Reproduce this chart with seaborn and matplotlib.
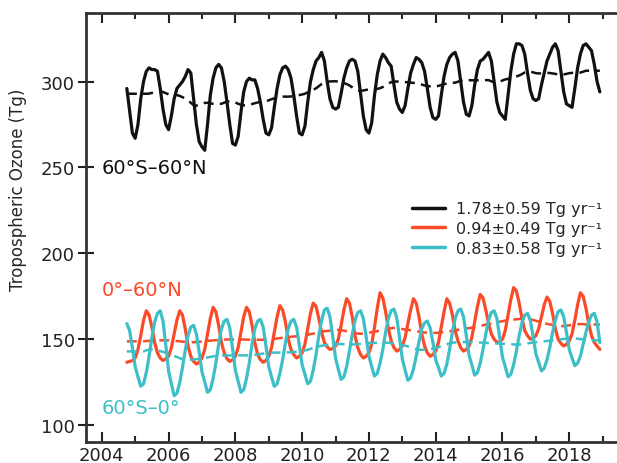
import numpy as np
import pandas as pd
import matplotlib
matplotlib.use("Agg")
import matplotlib.pyplot as plt
from matplotlib.lines import Line2D
from matplotlib.ticker import MultipleLocator
import seaborn as sns

# monthly tropospheric ozone burden (Tg), Oct 2004 - Dec 2018
black_60s_60n = [
    296, 283, 270,
    267, 275, 290, 300, 306, 308, 307, 307, 306, 296, 284, 275,
    272, 280, 290, 296, 298, 300, 303, 307, 305, 290, 275, 265,
    262, 260, 275, 292, 302, 308, 310, 308, 300, 288, 275, 264,
    263, 268, 282, 294, 300, 302, 301, 301, 296, 288, 278, 270,
    269, 273, 285, 296, 304, 308, 309, 307, 302, 292, 280, 270,
    269, 274, 288, 300, 307, 312, 314, 317, 312, 300, 290, 285,
    284, 285, 293, 302, 308, 312, 313, 312, 306, 293, 280, 272,
    270, 276, 292, 304, 312, 316, 314, 311, 309, 298, 288, 284,
    282, 286, 296, 305, 310, 314, 313, 311, 306, 296, 285, 279,
    278, 280, 292, 303, 310, 314, 316, 317, 312, 300, 288, 281,
    280, 286, 298, 307, 312, 313, 315, 317, 312, 300, 288, 282,
    280, 278, 292, 306, 316, 322, 322, 321, 316, 305, 295, 290,
    289, 290, 298, 305, 312, 316, 320, 322, 318, 306, 294, 287,
    286, 285, 296, 308, 316, 321, 322, 320, 318, 310, 300, 294,
]
red_0_60n = [
    136.5, 137, 137.5,
    139, 144, 152, 161, 166.5, 164, 157, 148, 142, 139, 137.5, 138.5,
    140, 145, 153, 161, 166.5, 164, 156, 146, 140, 137, 135.5, 136.5,
    139, 144, 153, 162, 168.5, 166, 158, 148, 142, 138.5, 137, 138,
    140, 145, 154, 163, 168.5, 166, 158, 148, 141, 138, 136.5, 137.5,
    140, 145, 154, 163, 169.5, 167, 160, 150, 144, 141, 139, 140,
    142, 147, 156, 165, 171, 169, 162, 154, 148, 145.5, 144, 144.5,
    146, 150, 158, 167, 173.5, 171, 163, 152, 145, 141, 139, 140,
    142, 147, 157, 168, 177, 174, 166, 156, 149, 145, 143, 144,
    146, 151, 159, 167, 173.5, 171, 163, 153, 146, 142, 140, 141,
    143, 148, 157, 166, 173.5, 171, 164, 155, 149, 145, 143, 144,
    146, 151, 160, 169, 176, 174, 167, 159, 153, 150, 148, 148.5,
    150, 155, 164, 173, 180, 178, 171, 162, 155, 152, 150, 150.5,
    152, 156, 163, 170, 174.5, 172, 165, 156, 150, 147.5, 146, 147,
    149, 153, 161, 170, 177, 175, 168, 159, 152, 148, 146, 144,
]
cyan_60s_0 = [
    159, 155, 145,
    134, 128, 122.5, 124, 130.5, 140, 151, 160, 165, 166.5, 160.5, 146.5,
    131.5, 124, 117, 118.5, 124.5, 133.5, 143.5, 152, 157, 158, 153, 142.5,
    131, 125, 119, 120.5, 127, 136, 147, 156, 160.5, 161.5, 156.5, 144.5,
    132, 125.5, 119, 120.5, 127, 136, 147, 156, 160.5, 161.5, 157, 146,
    134, 128, 122.5, 124, 130, 138, 148, 156, 160.5, 161.5, 157, 146.5,
    135, 129.5, 124, 125.5, 132, 141, 152, 161, 167, 168, 163, 151.5,
    139, 132.5, 126.5, 128, 134, 143, 152.5, 161, 165.5, 166.5, 162, 151.5,
    140, 134, 128.5, 130, 136, 144, 154, 162, 166.5, 167.5, 162.5, 151,
    138.5, 132, 126, 127.5, 132.5, 140, 148.5, 156, 159.5, 160.5, 156.5, 148,
    138, 133.5, 128.5, 130, 135.5, 144, 154, 162, 166.5, 167.5, 163, 152,
    140.5, 135, 129, 130.5, 136, 144, 153, 161, 165.5, 166.5, 162, 151,
    139.5, 134, 128, 129.5, 135, 143, 152, 159.5, 164, 165, 161, 151.5,
    141.5, 136.5, 131.5, 133, 138, 145, 154, 161, 166, 167, 163, 154,
    144, 139, 134.5, 136, 140, 147, 154, 160, 164, 165, 160, 148,
]

regions = ["60°S–60°N", "0°–60°N", "60°S–0°"]
trend_labels = ["1.78±0.59 Tg yr⁻¹", "0.94±0.49 Tg yr⁻¹", "0.83±0.58 Tg yr⁻¹"]
colors = ["#111111", "#fa4a28", "#3dbfc8"]

months = pd.period_range("2004-10", "2018-12", freq="M")
year_frac = months.year + (months.month - 1) / 12.0

frames = []
for name, vals in zip(regions, [black_60s_60n, red_0_60n, cyan_60s_0]):
    d = pd.DataFrame({"year": year_frac, "ozone": vals, "region": name})
    # smoothed trend: 12-month running mean, held flat at the ends
    d["trend"] = d["ozone"].rolling(12, center=True, min_periods=12).mean().bfill().ffill()
    frames.append(d)
df = pd.concat(frames, ignore_index=True)

sns.set_style("ticks")
plt.rcParams["font.family"] = ["DejaVu Sans"]

fig = plt.figure(figsize=(6.17, 4.64), dpi=100)
ax = fig.add_axes([0.139, 0.045, 0.861, 0.925])

for name, c in zip(regions, colors):
    sub = df[df["region"] == name]
    sns.lineplot(x=sub["year"], y=sub["ozone"], ax=ax, color=c, lw=2.3)
    sns.lineplot(x=sub["year"], y=sub["trend"], ax=ax, color=c, lw=1.8,
                 linestyle=(0, (4, 2.5)))

ax.set_xlim(2003.52, 2019.43)
ax.set_ylim(90, 340)
ax.set_xticks(range(2004, 2019, 2))
ax.xaxis.set_minor_locator(MultipleLocator(1))
ax.set_yticks([100, 150, 200, 250, 300])

ax.set_xlabel("")
ax.set_ylabel("Tropospheric Ozone (Tg)", fontsize=12)
ax.yaxis.set_label_coords(-0.11, 0.59)

for s in ["left", "bottom", "top"]:
    ax.spines[s].set_color("#333333")
    ax.spines[s].set_linewidth(2)
ax.spines["right"].set_visible(False)

ax.tick_params(axis="x", which="major", direction="in", top=True, length=7, width=1.5,
               labelsize=13, colors="#222222", pad=3)
ax.tick_params(axis="x", which="minor", direction="in", top=True, length=4, width=1.5)
ax.tick_params(axis="y", direction="inout", length=12, width=1.5, labelsize=13,
               colors="#222222", pad=2)

ax.text(2004.0, 250, regions[0], color=colors[0], fontsize=14, va="center")
ax.text(2004.0, 179, regions[1], color=colors[1], fontsize=14, va="center")
ax.text(2004.0, 110, regions[2], color=colors[2], fontsize=14, va="center")

handles = [Line2D([0], [0], color=c, lw=2.5) for c in colors]
ax.legend(handles, trend_labels, loc="upper right", bbox_to_anchor=(1.0, 0.595),
          frameon=False, fontsize=11.5, handlelength=2.1, labelspacing=0.3,
          handletextpad=0.7)

fig.savefig("out.png", dpi=100)
